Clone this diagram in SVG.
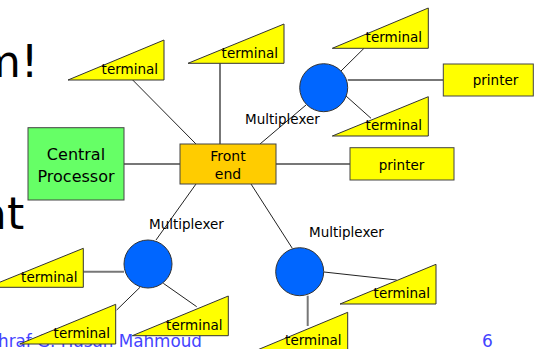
<svg xmlns="http://www.w3.org/2000/svg" width="535" height="349" viewBox="0 0 535 349">
<style>
text{font-family:"DejaVu Sans","Liberation Sans",sans-serif;fill:#000}
.tri{fill:#FFFF00;stroke:#333;stroke-width:1}
.box{stroke:#444;stroke-width:1}
.mux{fill:#0066FF;stroke:#333;stroke-width:1}
.lbl{font-size:13.5px}
.tl{font-size:13.5px;text-anchor:end}
.ln{stroke:#222;stroke-width:1;fill:none}
.lg{stroke:#777;stroke-width:2;fill:none}
.big{font-size:44px}
.foot{font-size:17px;fill:#4444FF}
</style>
<rect width="535" height="349" fill="#fff"/>
<text class="big" x="-22" y="77">m!</text>
<text class="big" x="-20" y="229">at</text>
<text class="foot" x="-2" y="347" textLength="204" lengthAdjust="spacingAndGlyphs">hraf G. Hasan Mahmoud</text>
<text class="foot" x="482" y="347">6</text>
<g id="connectors">
<line class="lg" x1="124" y1="164" x2="180" y2="164"/>
<line class="ln" x1="132.7" y1="80" x2="196" y2="144"/>
<line class="lg" x1="220" y1="63.3" x2="220" y2="144"/>
<line class="ln" x1="260" y1="144" x2="306" y2="105"/>
<line class="lg" x1="276" y1="164" x2="350" y2="164"/>
<line class="ln" x1="341" y1="71" x2="364" y2="48.3"/>
<line class="lg" x1="347.7" y1="80" x2="443.3" y2="80"/>
<line class="ln" x1="346" y1="96" x2="371" y2="118.3"/>
<line class="ln" x1="196" y1="184" x2="156" y2="240"/>
<line class="lg" x1="83.3" y1="271.7" x2="124" y2="271.7"/>
<line class="ln" x1="116.7" y1="310" x2="140" y2="287.3"/>
<line class="ln" x1="163.3" y1="283.3" x2="196.7" y2="306.7"/>
<line class="ln" x1="251" y1="184" x2="292.3" y2="248.3"/>
<line class="ln" x1="324" y1="272" x2="396.7" y2="280"/>
<line class="lg" x1="307.7" y1="295.7" x2="307.7" y2="326"/>
</g>
<g id="central-processor">
<rect class="box" x="28" y="127.7" width="96" height="72.3" fill="#66FF66"/>
<text x="76" y="160" font-size="16" text-anchor="middle">Central</text>
<text x="76" y="182" font-size="16" text-anchor="middle">Processor</text>
</g>
<g id="front-end">
<rect class="box" x="180" y="144" width="96" height="40" fill="#FFCC00"/>
<text x="228" y="160.5" font-size="14" text-anchor="middle">Front</text>
<text x="228" y="178.5" font-size="14" text-anchor="middle">end</text>
</g>
<g id="terminal-1">
<polygon class="tri" points="68,80 164,40 164,80"/>
<text class="tl" x="158" y="74">terminal</text>
</g>
<g id="terminal-2">
<polygon class="tri" points="188,63.3 284,24 284,63.3"/>
<text class="tl" x="278" y="57.5">terminal</text>
</g>
<g id="multiplexer-1">
<circle class="mux" cx="323.7" cy="87.7" r="24"/>
<text class="lbl" x="245" y="124">Multiplexer</text>
</g>
<g id="terminal-3">
<polygon class="tri" points="332.3,48.3 428.3,8 428.3,48.3"/>
<text class="tl" x="422" y="42">terminal</text>
</g>
<g id="printer-1">
<rect class="box" x="443.3" y="64" width="90" height="32" fill="#FFFF00"/>
<text x="495.5" y="85" font-size="13.5" text-anchor="middle">printer</text>
</g>
<g id="terminal-4">
<polygon class="tri" points="332.3,136 428.3,96.7 428.3,136"/>
<text class="tl" x="422" y="130">terminal</text>
</g>
<g id="printer-2">
<rect class="box" x="350" y="147.7" width="104" height="32.3" fill="#FFFF00"/>
<text x="401.5" y="169.5" font-size="13.5" text-anchor="middle">printer</text>
</g>
<g id="multiplexer-2">
<circle class="mux" cx="148" cy="264" r="24"/>
<text class="lbl" x="149" y="228.5">Multiplexer</text>
</g>
<g id="terminal-5">
<polygon class="tri" points="-12.7,287.3 83.3,248.3 83.3,287.3"/>
<text class="tl" x="77.5" y="281.5">terminal</text>
</g>
<g id="terminal-6">
<polygon class="tri" points="19.7,344 115.7,304.3 115.7,344"/>
<text class="tl" x="110" y="337.5">terminal</text>
</g>
<g id="terminal-7">
<polygon class="tri" points="132.3,335.7 228.3,296 228.3,335.7"/>
<text class="tl" x="222.5" y="329.5">terminal</text>
</g>
<g id="multiplexer-3">
<circle class="mux" cx="299.7" cy="271.7" r="24"/>
<text class="lbl" x="309" y="236.7">Multiplexer</text>
</g>
<g id="terminal-8">
<polygon class="tri" points="340,304 436,264.3 436,304"/>
<text class="tl" x="430" y="297.5">terminal</text>
</g>
<g id="terminal-9">
<polygon class="tri" points="251.7,352.3 347.7,312.3 347.7,352.3"/>
<text class="tl" x="341.5" y="345">terminal</text>
</g>
</svg>
